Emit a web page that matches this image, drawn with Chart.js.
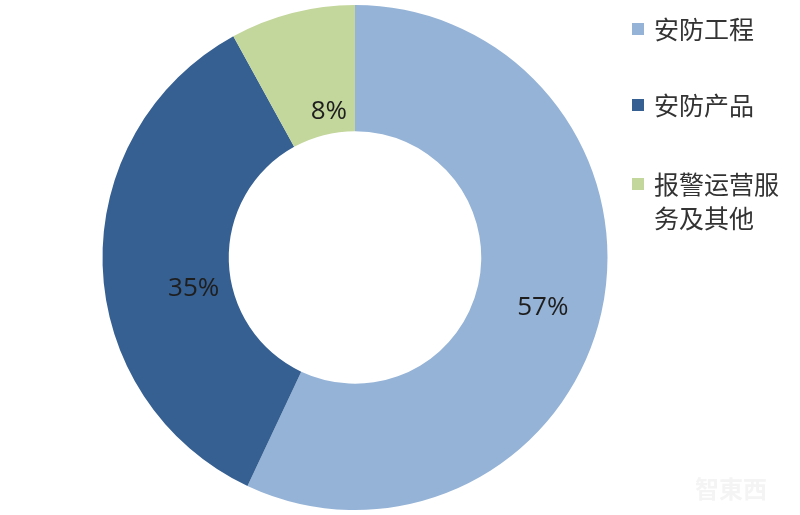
<!DOCTYPE html>
<html>
<head>
<meta charset="utf-8">
<script src="https://cdn.jsdelivr.net/npm/chart.js@4.4.0/dist/chart.umd.min.js"></script>
<style>
  body { margin: 0; background: #fff; }
  #wrap { position: relative; width: 800px; height: 515px; overflow: hidden; }
  #box { position: absolute; left: 0; top: 0; width: 710px; height: 515px; }
  #legend { position: absolute; left: 632px; top: 0; font-family: "Noto Sans CJK SC", sans-serif; font-size: 25px; color: #333; }
  .item { position: absolute; left: 0; width: 170px; line-height: 34px; }
  .sq { position: absolute; left: 0; top: 12px; width: 12px; height: 12px; }
  .txt { position: absolute; left: 22px; top: 0; width: 145px; }
  #mark { position: absolute; left: 695px; top: 470px; color: #f4f4f4; font-family: "Noto Sans CJK SC", sans-serif; font-size: 24px; font-weight: bold; }
</style>
</head>
<body>
<div id="wrap">
  <div id="box"><canvas id="pie"></canvas></div>
  <div id="legend"></div>
  <div id="mark">智東西</div>
</div>
<script>
var categories = ["安防工程", "安防产品", "报警运营服务及其他"];
var shares = [57, 35, 8];
var colors = ["#95b3d7", "#366092", "#c3d69b"];
var legendLines = [["安防工程"], ["安防产品"], ["报警运营服", "务及其他"]];
var legendTops = [11, 87, 166];
// desplazamiento de cada etiqueta respecto al centro del sector (px)
var labelNudge = [[3, 9], [28, 25], [21, 38]];

// etiquetas de porcentaje dentro de cada sector
var pctLabels = {
  id: "pctLabels",
  afterDatasetsDraw: function(chart) {
    var ctx = chart.ctx;
    var meta = chart.getDatasetMeta(0);
    ctx.save();
    ctx.font = "26px 'Open Sans', sans-serif";
    ctx.fillStyle = "#1e1e1e";
    ctx.textAlign = "center";
    ctx.textBaseline = "middle";
    meta.data.forEach(function(arc, i) {
      var p = arc.tooltipPosition();
      ctx.fillText(shares[i] + "%", p.x + labelNudge[i][0], p.y + labelNudge[i][1]);
    });
    ctx.restore();
  }
};

var pieCanvas = document.getElementById("pie");
var chart = new Chart(pieCanvas, {
  type: "doughnut",
  data: {
    labels: categories,
    datasets: [{
      data: shares,
      backgroundColor: colors,
      borderWidth: 0
    }]
  },
  options: {
    responsive: true,
    maintainAspectRatio: false,
    animation: false,
    cutout: "50%",
    layout: { padding: 5 },
    plugins: {
      legend: { display: false },
      tooltip: { enabled: false }
    }
  },
  plugins: [pctLabels]
});

var legendDiv = document.getElementById("legend");
for (var i = 0; i < categories.length; i++) {
  var item = document.createElement("div");
  item.classList.add("item");
  item.style.top = legendTops[i] + "px";
  var sq = document.createElement("div");
  sq.classList.add("sq");
  sq.style.background = colors[i];
  var txt = document.createElement("div");
  txt.classList.add("txt");
  txt.innerHTML = legendLines[i].join("<br>");
  item.appendChild(sq);
  item.appendChild(txt);
  legendDiv.appendChild(item);
}
</script>
</body>
</html>
